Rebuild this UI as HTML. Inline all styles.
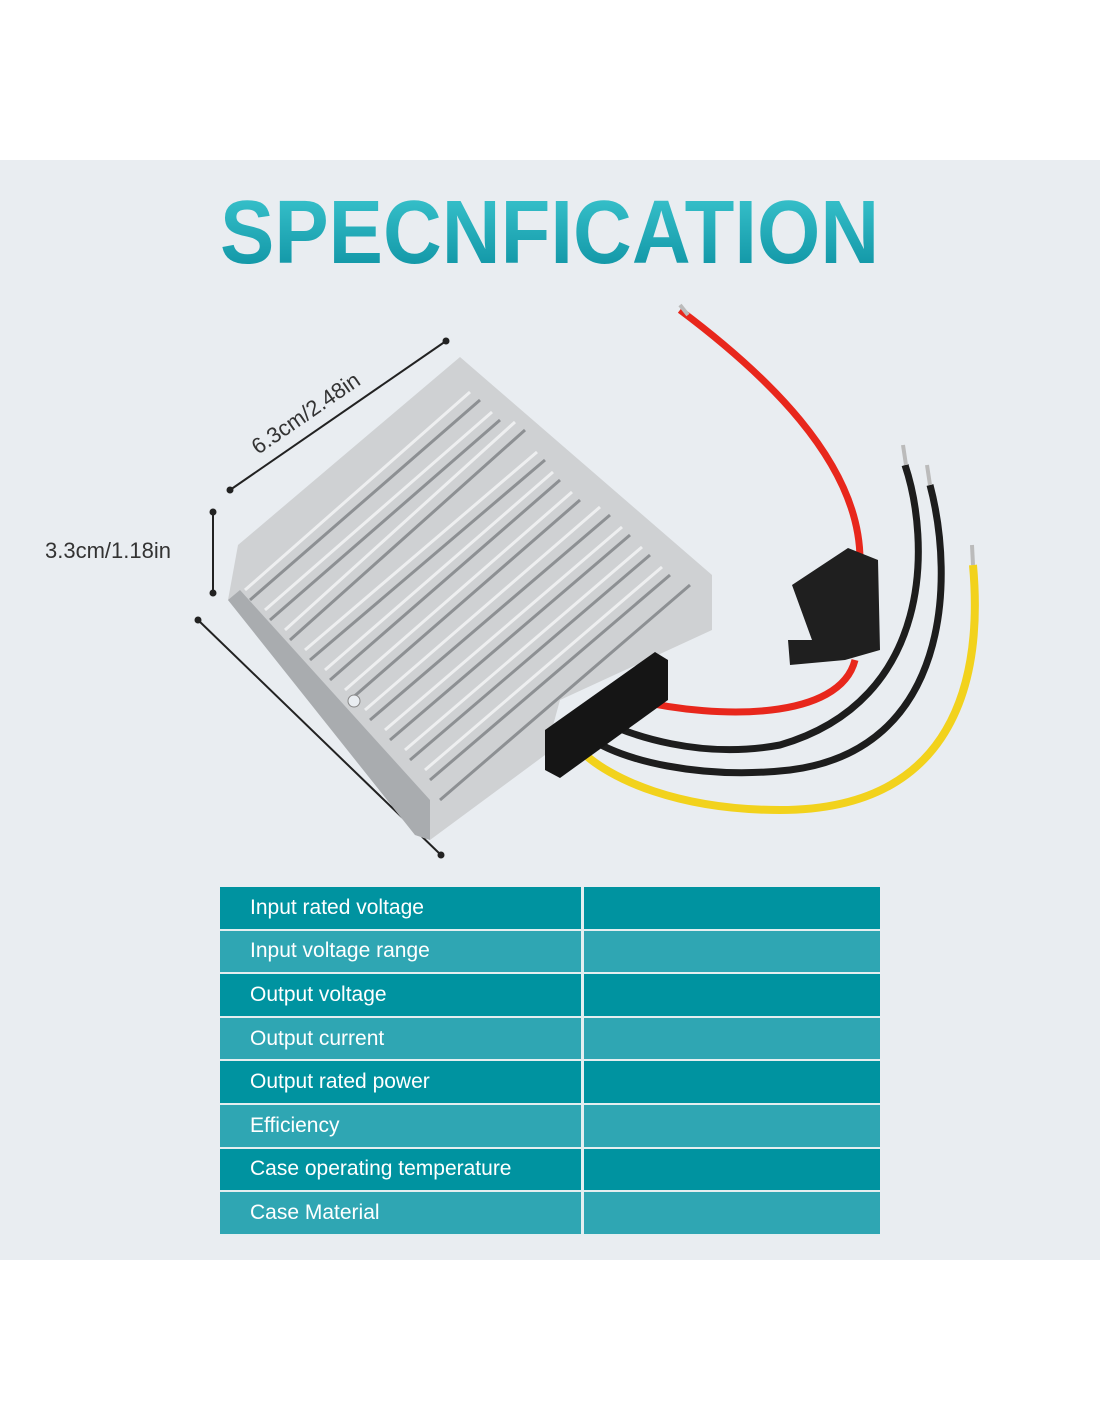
<!DOCTYPE html>
<html><head><style>
html,body{margin:0;padding:0}
body{width:1100px;height:1422px;background:#fff;position:relative;overflow:hidden;font-family:"Liberation Sans",sans-serif}
#bg{position:absolute;left:0;top:160px;width:1100px;height:1100px;background:#e9edf1}
#title{position:absolute;left:220px;top:186px;height:95px;font-weight:bold;font-size:90px;line-height:95px;white-space:nowrap;background:linear-gradient(180deg,#3cc6cf,#0b8fa0);-webkit-background-clip:text;background-clip:text;color:transparent;transform:scaleX(0.905);transform-origin:left center}
table{position:absolute;left:220px;top:887px;width:660px;border-collapse:collapse}
td{height:41.6px;border:2px solid #e4eef0;padding:0;color:#fff;font-size:21px}
td:first-child{width:362px;padding-left:30px;box-sizing:border-box}
tr:nth-child(odd) td{background:#0093a0}
tr:nth-child(even) td{background:#2fa6b3}
table,tr:first-child td{border-top:none}
td{border-left:none;border-right:none}
td:first-child{border-right:3px solid #e4eef0}
</style></head><body>
<div id="bg"></div>
<div id="title">SPECNFICATION</div>
<svg style="position:absolute;left:0;top:0" width="1100" height="880">
 <line x1="230" y1="490" x2="446" y2="341" stroke="#222" stroke-width="2"/>
 <circle cx="230" cy="490" r="3.5" fill="#222"/><circle cx="446" cy="341" r="3.5" fill="#222"/>
 <line x1="213" y1="512" x2="213" y2="593" stroke="#222" stroke-width="2"/>
 <circle cx="213" cy="512" r="3.5" fill="#222"/><circle cx="213" cy="593" r="3.5" fill="#222"/>
 <line x1="198" y1="620" x2="441" y2="855" stroke="#222" stroke-width="2"/>
 <circle cx="198" cy="620" r="3.5" fill="#222"/><circle cx="441" cy="855" r="3.5" fill="#222"/>
 <text x="0" y="0" transform="translate(258,455) rotate(-34.5)" font-size="22" fill="#333" font-family="Liberation Sans">6.3cm/2.48in</text>
 <text x="45" y="558" font-size="22" fill="#333" font-family="Liberation Sans">3.3cm/1.18in</text>
 <polygon points="228,600 238,545 460,357 712,575 712,630 560,700 545,755 430,840 415,835" fill="#cfd1d3"/>
 <polygon points="228,600 415,835 430,840 430,800 240,590" fill="#a9acaf"/>
 <g stroke="#8d9093" stroke-width="3" fill="none">
  <path d="M250,600 L480,400"/><path d="M270,620 L500,420"/><path d="M290,640 L525,430"/>
  <path d="M310,660 L545,460"/><path d="M330,680 L560,480"/><path d="M350,700 L580,500"/>
  <path d="M370,720 L610,515"/><path d="M390,740 L630,535"/><path d="M410,760 L650,555"/>
  <path d="M430,780 L670,575"/><path d="M440,800 L690,585"/>
 </g>
 <g stroke="#eeeff0" stroke-width="3" fill="none">
  <path d="M245,590 L470,392"/><path d="M265,610 L492,412"/><path d="M285,630 L515,422"/>
  <path d="M305,650 L537,452"/><path d="M325,670 L553,472"/><path d="M345,690 L572,492"/>
  <path d="M365,710 L600,507"/><path d="M385,730 L622,527"/><path d="M405,750 L642,547"/>
  <path d="M425,770 L662,567"/>
 </g>
 <circle cx="354" cy="701" r="6" fill="#e9edf1" stroke="#888"/>
 <path d="M680,310 C760,370 860,460 860,560" stroke="#e8271c" stroke-width="7" fill="none"/>
 <path d="M855,660 C840,720 720,720 635,700" stroke="#e8271c" stroke-width="7" fill="none"/>
 <path d="M905,465 C930,540 935,700 780,745 C700,760 630,735 600,720" stroke="#1d1d1d" stroke-width="7" fill="none"/>
 <path d="M930,485 C955,580 950,750 790,770 C700,780 620,760 590,738" stroke="#1d1d1d" stroke-width="7" fill="none"/>
 <path d="M973,565 C985,700 940,810 780,810 C680,810 610,780 580,750" stroke="#f2d21c" stroke-width="8" fill="none"/>
 <line x1="680" y1="305" x2="688" y2="315" stroke="#bbb" stroke-width="4"/>
 <line x1="903" y1="445" x2="906" y2="465" stroke="#bbb" stroke-width="4"/>
 <line x1="927" y1="465" x2="930" y2="485" stroke="#bbb" stroke-width="4"/>
 <line x1="972" y1="545" x2="973" y2="565" stroke="#bbb" stroke-width="4"/>
 <path d="M792,585 L848,548 L878,560 L880,650 L845,660 L790,665 L788,640 L812,640 Z" fill="#1f1f1f"/>
 <polygon points="545,730 655,652 668,660 668,700 560,778 545,770" fill="#151515"/>
</svg>
<table>
<tr><td>Input rated voltage</td><td></td></tr>
<tr><td>Input voltage range</td><td></td></tr>
<tr><td>Output voltage</td><td></td></tr>
<tr><td>Output current</td><td></td></tr>
<tr><td>Output rated power</td><td></td></tr>
<tr><td>Efficiency</td><td></td></tr>
<tr><td>Case operating temperature</td><td></td></tr>
<tr><td>Case Material</td><td></td></tr>
</table>
</body></html>
